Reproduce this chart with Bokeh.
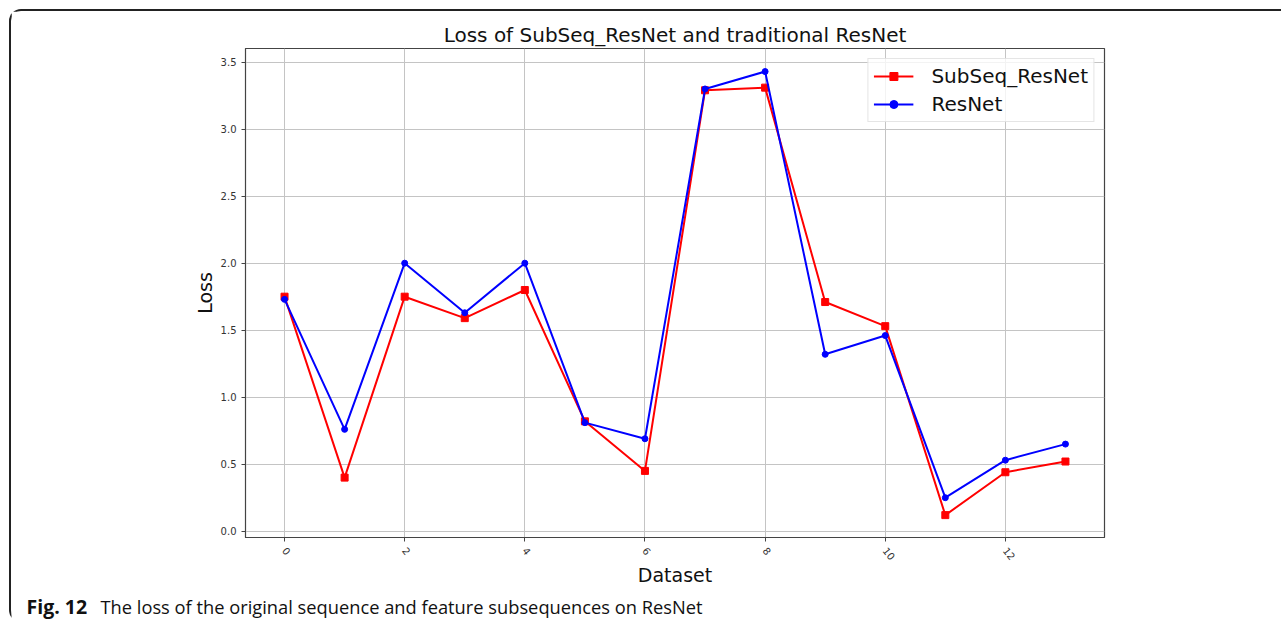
import numpy as np
from bokeh.plotting import figure
from bokeh.models import FixedTicker, Range1d, Legend, LegendItem, NumeralTickFormatter
from bokeh.core.properties import value
from bokeh.embed import file_html
from bokeh.resources import INLINE

datasets = list(range(14))
subseq_resnet = [1.75, 0.40, 1.75, 1.59, 1.80, 0.82, 0.45, 3.29, 3.31, 1.71, 1.53, 0.12, 0.44, 0.52]
resnet = [1.73, 0.76, 2.00, 1.63, 2.00, 0.81, 0.69, 3.30, 3.43, 1.32, 1.46, 0.25, 0.53, 0.65]
x_ticks = [0, 2, 4, 6, 8, 10, 12]
y_ticks = [0.0, 0.5, 1.0, 1.5, 2.0, 2.5, 3.0, 3.5]

title_text = "Loss of SubSeq_ResNet and traditional ResNet"
caption_bold = ["Fig. 12"]
caption_text = ["The loss of the original sequence and feature subsequences on ResNet"]

FONT = "DejaVu Sans"
W = 1272
H = 580

p = figure(width=W, height=H, output_backend="svg", toolbar_location=None,
           x_range=Range1d(-0.65, 13.65), y_range=Range1d(-0.047, 3.602),
           min_border_left=234, min_border_right=W - (1104 - 11), min_border_top=37,
           min_border_bottom=11 + H - 537,
           styles={"margin-top": "9px", "margin-left": "9px",
                   "border-top": "2px solid #222", "border-left": "2px solid #222",
                   "border-top-left-radius": "12px"})

p.title.text = title_text
p.title.text_font = FONT
p.title.text_font_size = "20px"
p.title.text_font_style = "normal"
p.title.align = "center"
p.title.text_color = "#111111"
p.title.standoff = 4

p.outline_line_color = "#444444"
p.outline_line_width = 1.2

for ax in (p.xaxis[0], p.yaxis[0]):
    ax.major_label_text_font = FONT
    ax.major_label_text_font_size = "10px"
    ax.major_label_text_color = "#333333"
    ax.axis_label_text_font = FONT
    ax.axis_label_text_font_size = "19px"
    ax.axis_label_text_font_style = "normal"
    ax.axis_label_text_color = "#111111"
    ax.minor_tick_line_color = None
    ax.major_tick_in = 0
    ax.major_tick_out = 4
    ax.axis_line_color = "#444444"
    ax.major_tick_line_color = "#444444"

p.xaxis.ticker = FixedTicker(ticks=x_ticks)
p.yaxis.ticker = FixedTicker(ticks=y_ticks)
p.yaxis.formatter = NumeralTickFormatter(format="0.0")
p.xaxis.major_label_orientation = -0.9
p.xaxis.major_label_standoff = 7
p.xaxis.axis_label = "Dataset"
p.yaxis.axis_label = "Loss"
p.xaxis.axis_label_standoff = -2
p.yaxis.axis_label_standoff = 2

p.grid.grid_line_color = "#c4c4c4"
p.grid.grid_line_width = 1

r1 = p.line(datasets, subseq_resnet, line_color="red", line_width=2)
s1 = p.scatter(datasets, subseq_resnet, marker="square", size=7, color="red")
r2 = p.line(datasets, resnet, line_color="blue", line_width=2)
s2 = p.scatter(datasets, resnet, marker="circle", size=6, color="blue")

legend = Legend(items=[LegendItem(label="SubSeq_ResNet", renderers=[r1, s1]),
                       LegendItem(label="ResNet", renderers=[r2, s2])],
                location="top_right")
legend.label_text_font = FONT
legend.label_text_font_size = "20px"
legend.label_text_color = "#111111"
legend.glyph_width = 40
legend.glyph_height = 20
legend.label_height = 20
legend.label_standoff = 18
legend.spacing = 4
legend.padding = 5
legend.margin = 10
legend.border_line_color = "#cccccc"
legend.border_line_width = 1
legend.background_fill_alpha = 0.8
p.add_layout(legend)

# caption strip (separate root so it is not frame-aligned with the chart)
CH = 33
cap = figure(width=W, height=CH, output_backend="svg", toolbar_location=None,
             x_range=Range1d(0, W), y_range=Range1d(0, CH),
             x_axis_type=None, y_axis_type=None, min_border=0,
             styles={"margin-left": "9px", "border-left": "2px solid #222",
                     "border-bottom-left-radius": "12px"})
cap.outline_line_color = None
cap.grid.visible = False
cap.text(x=[15], y=[CH - 17], text=caption_bold, text_font=value("Open Sans"),
         text_font_size="19.5px", text_font_style="bold", text_baseline="middle",
         text_color="#111111")
cap.text(x=[89], y=[CH - 17], text=caption_text, text_font=value("Open Sans"),
         text_font_size="18.3px", text_baseline="middle", text_color="#111111")

open("out.html", "w").write(file_html([p, cap], INLINE))
